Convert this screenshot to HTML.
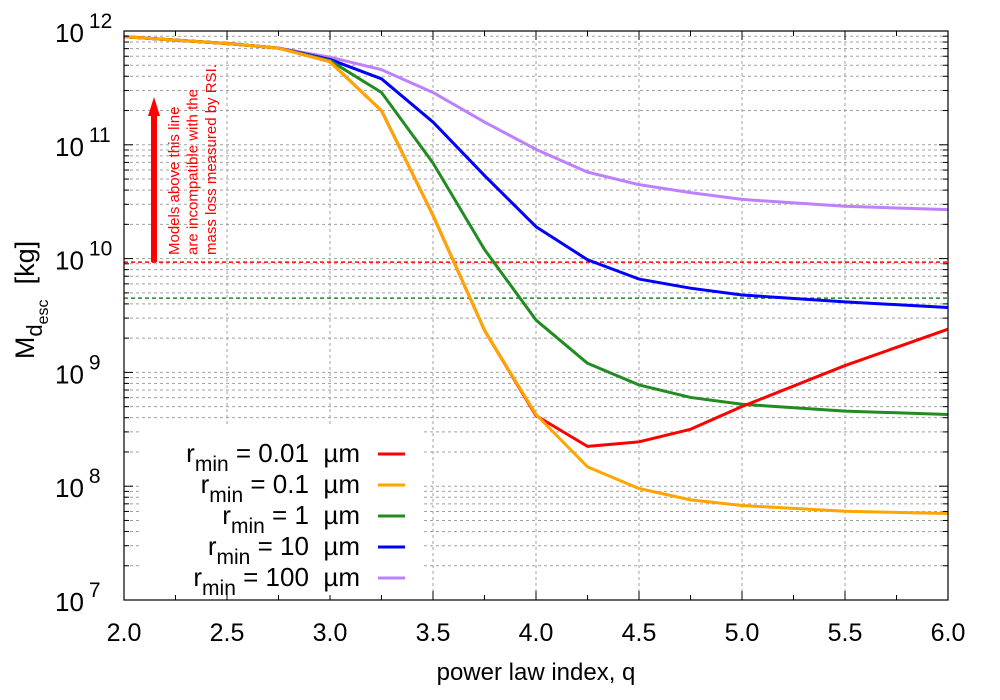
<!DOCTYPE html>
<html><head><meta charset="utf-8"><style>
html,body{margin:0;padding:0;background:#fff;}
svg{display:block;font-family:"Liberation Sans",sans-serif;}
</style></head><body>
<svg id="chart" width="1000" height="700" viewBox="0 0 1000 700" xmlns="http://www.w3.org/2000/svg">
<g id="grid"></g>
<g id="lines"></g>
<g id="axes"></g>
<g id="legend"></g>
<text x="536" y="680" font-size="24" text-anchor="middle">power law index, q</text>
<text transform="translate(34,300) rotate(-90)" font-size="27" text-anchor="middle">M<tspan font-size="22" dy="8">d</tspan><tspan font-size="16" dy="6">esc</tspan><tspan dy="-14">&#160; [kg]</tspan></text>
</svg>
<script>
const qValues=[2.0,2.25,2.5,2.75,3.0,3.25,3.5,3.75,4.0,4.25,4.5,4.75,5.0,5.5,6.0];
const seriesNames=["r_min = 0.01 µm","r_min = 0.1 µm","r_min = 1 µm","r_min = 10 µm","r_min = 100 µm"];
const legendSizes=["0.01","0.1","1","10","100"];
const seriesColors=["#ff0000","#ffa500","#228b22","#0000ff","#bf80ff"];
// log10 of mass
const logRed=[11.95,11.92,11.89,11.85,11.73,11.30,10.38,9.37,8.62,8.35,8.39,8.50,8.70,9.06,9.38];
const logOrange=[11.95,11.92,11.89,11.85,11.73,11.30,10.38,9.37,8.63,8.17,7.98,7.88,7.83,7.78,7.76];
const logGreen=[11.95,11.92,11.89,11.85,11.74,11.46,10.84,10.08,9.46,9.08,8.89,8.78,8.72,8.66,8.63];
const logBlue=[11.95,11.92,11.89,11.85,11.75,11.58,11.20,10.73,10.28,9.99,9.82,9.74,9.68,9.62,9.57];
const logPurple=[11.95,11.92,11.89,11.85,11.77,11.66,11.46,11.20,10.96,10.76,10.65,10.58,10.52,10.46,10.43];
const xTicks=[2.0,2.5,3.0,3.5,4.0,4.5,5.0,5.5,6.0];
const yDecades=[7,8,9,10,11,12];
const limitRed=9.3e9, limitGreen=4.5e9;

const NS="http://www.w3.org/2000/svg";
const L=124,R=948,T=31,B=600;
const xs=q=>L+(q-2)/4*(R-L);
const ys=lg=>B-(lg-7)/5*(B-T);
function mk(tag,attrs,parent){const e=document.createElementNS(NS,tag);for(const k in attrs)e.setAttribute(k,attrs[k]);parent.appendChild(e);return e;}
const grid=document.getElementById('grid'),axes=document.getElementById('axes'),lines=document.getElementById('lines'),legend=document.getElementById('legend');

for(let d=7;d<12;d++){for(let m=1;m<10;m++){const y=ys(d+Math.log10(m));
 const g=mk('line',{x1:L,x2:R,y1:y,y2:y,stroke:'#a0a0a0','stroke-width':1,'stroke-dasharray':'3,3'},grid);
 
 const t=mk('line',{x1:L,x2:L+(m==1?9:5),y1:y,y2:y,stroke:'#000'},axes);
 
 const t2=mk('line',{x1:R,x2:R-(m==1?9:5),y1:y,y2:y,stroke:'#000'},axes);
 }}
xTicks.forEach(q=>{const x=xs(q);
 if(q>2&&q<6){const g=mk('line',{x1:x,x2:x,y1:T,y2:B,stroke:'#a0a0a0','stroke-dasharray':'3,3'},grid);
 }
 const t=mk('line',{x1:x,x2:x,y1:B,y2:B-9,stroke:'#000'},axes);
 const t2=mk('line',{x1:x,x2:x,y1:T,y2:T+9,stroke:'#000'},axes);
 const lb=mk('text',{x:x,y:641,'font-size':25,'text-anchor':'middle'},axes);lb.textContent=q.toFixed(1);
 
 if(q<6){const xm=xs(q+0.25);const m1=mk('line',{x1:xm,x2:xm,y1:B,y2:B-5,stroke:'#000'},axes);
 const m2=mk('line',{x1:xm,x2:xm,y1:T,y2:T+5,stroke:'#000'},axes);}});
yDecades.forEach(d=>{const y=ys(d);
 const lb=mk('text',{x:55,y:y+11,'font-size':26},axes);
 
 lb.innerHTML='10<tspan dy="-14" font-size="21" dx="5">'+d+'</tspan>';});
const fr=mk('rect',{x:L,y:T,width:R-L,height:B-T,fill:'none',stroke:'#000','stroke-width':1.2},axes);


[[limitRed,'#ff0000','rsi-limit-line'],[limitGreen,'#228b22','green-limit-line']].forEach(([v,c,n])=>{const y=ys(Math.log10(v));
 const l=mk('line',{x1:L,x2:R,y1:y,y2:y,stroke:c,'stroke-width':1.5,'stroke-dasharray':'4,3'},lines);
 });
const yl=ys(Math.log10(limitRed));
const sh=mk('rect',{x:151,y:113,width:6,height:yl-113,fill:'#ff0000'},lines);
const hd=mk('polygon',{points:'148,116 154,97 160,116',fill:'#ff0000'},lines);
const anno=["Models above this line","are incompatible with the","mass loss measured by RSI."];
anno.forEach((s,i)=>{const t=mk('text',{transform:`translate(${179+i*18.5},255) rotate(-90)`,'font-size':15,fill:'#ff0000'},lines);t.textContent=s;
 });

const lbg=mk('rect',{x:140,y:425,width:282,height:170,fill:'#fff'},legend);

const all=[logRed,logOrange,logGreen,logBlue,logPurple];
const order=[4,3,2,0,1];
order.forEach(i=>{const pts=qValues.map((q,j)=>xs(q)+','+ys(all[i][j])).join(' ');
 const p=mk('polyline',{points:pts,fill:'none',stroke:seriesColors[i],'stroke-width':3,'stroke-linejoin':'round'},lines);
 });
legendSizes.forEach((s,i)=>{const y=454+i*31;
 const t=mk('text',{x:360,y:y+8,'font-size':26,'text-anchor':'end'},legend);
 t.innerHTML='r<tspan font-size="21" dy="9">min</tspan><tspan dy="-9"> = '+s+'&#160; µm</tspan>';
 
 const l=mk('line',{x1:378,x2:405,y1:y,y2:y,stroke:seriesColors[i],'stroke-width':3},legend);
 });
</script>
</body></html>
